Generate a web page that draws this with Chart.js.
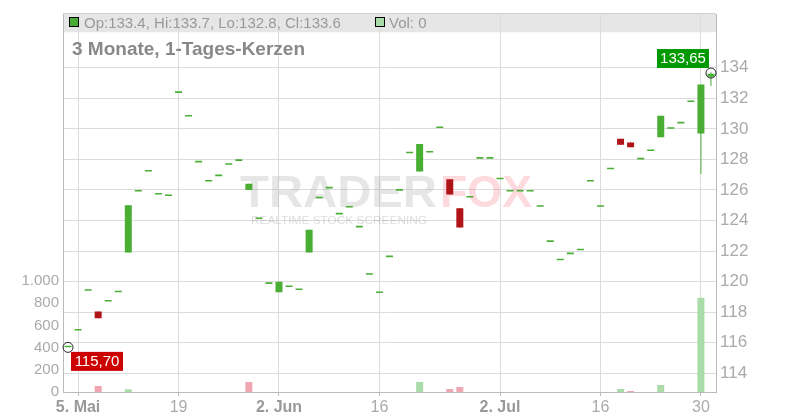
<!DOCTYPE html>
<html>
<head>
<meta charset="utf-8">
<style>
    html, body { margin: 0; padding: 0; background: #fff; }
</style>
</head>
<body>
<canvas id="candleChart" width="800" height="420"></canvas>
<script src="https://cdn.jsdelivr.net/npm/chart.js"></script>
<script>
    // trading days, 02.05. - 31.07.
    const dates = [
        '02.05', '05.05', '06.05', '07.05', '08.05', '09.05', '12.05', '13.05', '14.05', '15.05',
        '16.05', '19.05', '20.05', '21.05', '22.05', '23.05', '26.05', '27.05', '28.05', '29.05',
        '30.05', '02.06', '03.06', '04.06', '05.06', '06.06', '09.06', '10.06', '11.06', '12.06',
        '13.06', '16.06', '17.06', '18.06', '19.06', '20.06', '23.06', '24.06', '25.06', '26.06',
        '27.06', '30.06', '01.07', '02.07', '03.07', '04.07', '07.07', '08.07', '09.07', '10.07',
        '11.07', '14.07', '15.07', '16.07', '17.07', '18.07', '21.07', '22.07', '23.07', '24.07',
        '25.07', '28.07', '29.07', '30.07', '31.07'
    ];

    const open = [
        115.7, 116.8, 119.4, 118.05, 118.7, 119.3, 121.9, 125.9, 127.2, 125.7,
        125.6, 132.35, 130.8, 127.8, 126.55, 126.9, 127.65, 127.9, 126.0, 124.1,
        119.85, 119.3, 119.65, 119.45, 121.9, 125.45, 126.1, 124.4, 124.85, 123.55,
        120.45, 119.25, 121.6, 125.95, 128.4, 127.2, 128.45, 130.05, 126.7, 124.8,
        125.5, 128.05, 128.05, 126.7, 125.9, 125.9, 125.9, 124.9, 122.6, 121.4,
        121.8, 122.05, 126.55, 124.9, 127.35, 129.35, 129.1, 128.0, 128.55, 129.45,
        130.0, 130.35, 131.75, 129.7, 133.4
    ];
    const high = [
        115.7, 116.8, 119.4, 118.05, 118.7, 119.3, 125.0, 125.9, 127.2, 125.7,
        125.6, 132.35, 130.8, 127.8, 126.55, 126.9, 127.65, 127.9, 126.4, 124.1,
        119.85, 120.0, 119.65, 119.45, 123.4, 125.45, 126.1, 124.4, 124.85, 123.55,
        120.45, 119.25, 121.6, 125.95, 128.4, 129.0, 128.45, 130.05, 126.7, 124.8,
        125.5, 128.05, 128.05, 126.7, 125.9, 125.9, 125.9, 124.9, 122.6, 121.4,
        121.8, 122.05, 126.55, 124.9, 127.35, 129.35, 129.1, 128.0, 128.55, 130.85,
        130.0, 130.35, 131.75, 132.9, 133.7
    ];
    const low = [
        115.7, 116.8, 119.4, 117.6, 118.7, 119.3, 121.9, 125.9, 127.2, 125.7,
        125.6, 132.35, 130.8, 127.8, 126.55, 126.9, 127.65, 127.9, 126.0, 124.1,
        119.85, 119.3, 119.65, 119.45, 121.9, 125.45, 126.1, 124.4, 124.85, 123.55,
        120.45, 119.25, 121.6, 125.95, 128.4, 127.2, 128.45, 130.05, 125.7, 123.55,
        125.5, 128.05, 128.05, 126.7, 125.9, 125.9, 125.9, 124.9, 122.6, 121.4,
        121.8, 122.05, 126.55, 124.9, 127.35, 128.95, 128.8, 128.0, 128.55, 129.45,
        130.0, 130.35, 131.75, 127.05, 132.8
    ];
    const close = [
        115.7, 116.8, 119.4, 117.6, 118.7, 119.3, 125.0, 125.9, 127.2, 125.7,
        125.6, 132.35, 130.8, 127.8, 126.55, 126.9, 127.65, 127.9, 126.4, 124.1,
        119.85, 120.0, 119.65, 119.45, 123.4, 125.45, 126.1, 124.4, 124.85, 123.55,
        120.45, 119.25, 121.6, 125.95, 128.4, 129.0, 128.45, 130.05, 125.7, 123.55,
        125.5, 128.05, 128.05, 126.7, 125.9, 125.9, 125.9, 124.9, 122.6, 121.4,
        121.8, 122.05, 126.55, 124.9, 127.35, 128.95, 128.8, 128.0, 128.55, 130.85,
        130.0, 130.35, 131.75, 132.9, 133.6
    ];
    const volume = [
        0, 0, 0, 55, 0, 0, 25, 0, 0, 0,
        0, 0, 0, 0, 0, 0, 0, 0, 90, 0,
        0, 0, 0, 0, 0, 0, 0, 0, 0, 0,
        0, 0, 0, 0, 0, 90, 0, 0, 27, 45,
        0, 0, 0, 0, 0, 0, 0, 0, 0, 0,
        0, 0, 0, 0, 0, 27, 10, 0, 0, 63,
        0, 0, 0, 850, 0
    ];

    const tickDays = ['05.05', '19.05', '02.06', '16.06', '02.07', '16.07', '30.07'];
    const tickText = ['5. Mai', '19', '2. Jun', '16', '2. Jul', '16', '30'];
    const priceTicks = [114, 116, 118, 120, 122, 124, 126, 128, 130, 132, 134];
    const volumeTicks = [0, 200, 400, 600, 800, 1000];

    const firstPrice = 115.70;
    const lastPrice = 133.65;
    const headerText = 'Op:133.4, Hi:133.7, Lo:132.8, Cl:133.6';
    const volText = 'Vol: 0';
    const title = '3 Monate, 1-Tages-Kerzen';

    const FONT = "'Liberation Sans', Arial, sans-serif";
    Chart.defaults.font.family = FONT;

    const upColor = '#4aae35';
    const downColor = '#b01418';
    const volUp = '#aadcaa';
    const volDown = '#f0a6b0';

    const last = dates.length - 1;
    const bodyData = dates.map((d, i) => [open[i], close[i]]);
    const wickData = dates.map((d, i) => [low[i], high[i]]);
    const candleColors = dates.map((d, i) => close[i] >= open[i] ? upColor : downColor);
    const volColors = dates.map((d, i) => (i > 0 && close[i] < close[i - 1]) ? volDown : volUp);
    const markerData = dates.map((d, i) => i === 0 ? firstPrice : (i === last ? lastPrice : null));

    function fmtPrice(v) {
        return v.toFixed(2).replace('.', ',');
    }

    function priceBox(ctx, text, x, y, color) {
        ctx.fillStyle = color;
        ctx.fillRect(x, y, 52, 19);
        ctx.fillStyle = '#fff';
        ctx.font = '15px ' + FONT;
        ctx.textAlign = 'center';
        ctx.textBaseline = 'middle';
        ctx.fillText(text, x + 26, y + 10);
    }

    function fitText(ctx, text, x, y, width) {
        const w = ctx.measureText(text).width;
        ctx.save();
        ctx.translate(x, y);
        ctx.scale(width / w, 1);
        ctx.fillText(text, 0, 0);
        ctx.restore();
    }

    const decor = {
        id: 'decor',
        beforeDraw(chart) {
            const {ctx, chartArea: a} = chart;
            ctx.save();
            ctx.fillStyle = '#e6e6e6';
            ctx.fillRect(a.left, a.top, a.right - a.left, 18);
            ctx.strokeStyle = '#c8c8c8';
            ctx.lineWidth = 1;
            ctx.beginPath();
            ctx.moveTo(a.left, a.top - 0.5);
            ctx.lineTo(a.right, a.top - 0.5);
            ctx.stroke();
            ctx.restore();
        },
        beforeDatasetsDraw(chart) {
            const ctx = chart.ctx;
            ctx.save();
            ctx.textAlign = 'left';
            ctx.textBaseline = 'alphabetic';
            ctx.font = 'bold 45px ' + FONT;
            ctx.fillStyle = 'rgba(160,160,160,0.26)';
            fitText(ctx, 'TRADER', 240, 207, 197);
            ctx.fillStyle = 'rgba(240,70,90,0.2)';
            fitText(ctx, 'FOX', 440, 207, 92);
            ctx.font = '11px ' + FONT;
            ctx.fillStyle = 'rgba(150,150,150,0.33)';
            fitText(ctx, 'REALTIME STOCK SCREENING', 251, 223.5, 176);
            ctx.restore();
        },
        afterDraw(chart) {
            const {ctx, scales} = chart;
            ctx.save();
            // header line
            ctx.fillStyle = upColor;
            ctx.fillRect(69, 17, 10, 10);
            ctx.strokeStyle = '#000';
            ctx.lineWidth = 1;
            ctx.strokeRect(69.5, 17.5, 9, 9);
            ctx.fillStyle = volUp;
            ctx.fillRect(375, 17, 10, 10);
            ctx.strokeRect(375.5, 17.5, 9, 9);
            ctx.fillStyle = '#999';
            ctx.font = '15px ' + FONT;
            ctx.textAlign = 'left';
            ctx.textBaseline = 'alphabetic';
            ctx.fillText(headerText, 84, 27.5);
            ctx.fillText(volText, 389, 27.5);
            // title
            ctx.fillStyle = '#888';
            ctx.font = 'bold 19px ' + FONT;
            ctx.fillText(title, 72, 54.5);
            // first / last price labels
            const x0 = scales.x.getPixelForValue(0);
            const y0 = scales.y.getPixelForValue(firstPrice);
            priceBox(ctx, fmtPrice(firstPrice), x0 + 3, y0 + 4.5, '#cc0000');
            const x1 = scales.x.getPixelForValue(last);
            const y1 = scales.y.getPixelForValue(lastPrice);
            priceBox(ctx, fmtPrice(lastPrice), x1 - 54, y1 - 24, '#009900');
            ctx.restore();
        }
    };

    const candleChart = new Chart(document.getElementById('candleChart'), {
        type: 'bar',
        data: {
            labels: dates,
            datasets: [
                {
                    type: 'line',
                    label: 'marker',
                    data: markerData,
                    yAxisID: 'y',
                    showLine: false,
                    pointRadius: 5,
                    pointBorderColor: '#222',
                    pointBackgroundColor: 'rgba(0,0,0,0)',
                    pointBorderWidth: 1,
                    order: 0
                },
                {
                    label: 'body',
                    data: bodyData,
                    yAxisID: 'y',
                    backgroundColor: candleColors,
                    grouped: false,
                    maxBarThickness: 7,
                    minBarLength: 1.6,
                    order: 1
                },
                {
                    label: 'wick',
                    data: wickData,
                    yAxisID: 'y',
                    backgroundColor: candleColors,
                    grouped: false,
                    maxBarThickness: 1,
                    order: 2
                },
                {
                    label: 'volume',
                    data: volume,
                    yAxisID: 'v',
                    backgroundColor: volColors,
                    grouped: false,
                    maxBarThickness: 7,
                    order: 3
                }
            ]
        },
        options: {
            responsive: false,
            animation: false,
            events: [],
            layout: {padding: {top: 12, left: 0, right: 0, bottom: 0}},
            plugins: {
                legend: {display: false},
                tooltip: {enabled: false}
            },
            scales: {
                x: {
                    offset: true,
                    grid: {offset: false, color: '#dcdcdc', tickColor: '#bbb', tickLength: 4},
                    border: {color: '#bbb'},
                    ticks: {
                        autoSkip: false,
                        maxRotation: 0,
                        padding: 2,
                        callback: (v) => tickText[tickDays.indexOf(dates[v])],
                        font: (c) => ({size: 16, weight: (c.tick && String(c.tick.label).includes('.')) ? 'bold' : 'normal'}),
                        color: (c) => (c.tick && String(c.tick.label).includes('.')) ? '#999' : '#aaa'
                    },
                    afterBuildTicks: (s) => {
                        s.ticks = tickDays.map(d => ({value: dates.indexOf(d)}));
                    },
                    afterFit: (s) => { s.height = 28; }
                },
                y: {
                    position: 'right',
                    min: 112.78,
                    max: 137.5,
                    grid: {color: '#dcdcdc', drawTicks: false},
                    border: {color: '#bbb'},
                    ticks: {padding: 4, color: '#aaa', font: {size: 17}, callback: (v) => String(v)},
                    afterBuildTicks: (s) => {
                        s.ticks = priceTicks.map(v => ({value: v}));
                    },
                    afterFit: (s) => { s.width = 84; }
                },
                v: {
                    position: 'left',
                    min: 0,
                    max: 3408,
                    grid: {display: false, drawTicks: false},
                    border: {color: '#bbb'},
                    ticks: {
                        padding: 4,
                        color: '#aaa',
                        font: {size: 15},
                        callback: (v) => v >= 1000 ? (v / 1000) + '.000' : String(v)
                    },
                    afterBuildTicks: (s) => {
                        s.ticks = volumeTicks.map(v => ({value: v}));
                    },
                    afterFit: (s) => { s.width = 63; }
                }
            }
        },
        plugins: [decor]
    });
</script>
</body>
</html>
